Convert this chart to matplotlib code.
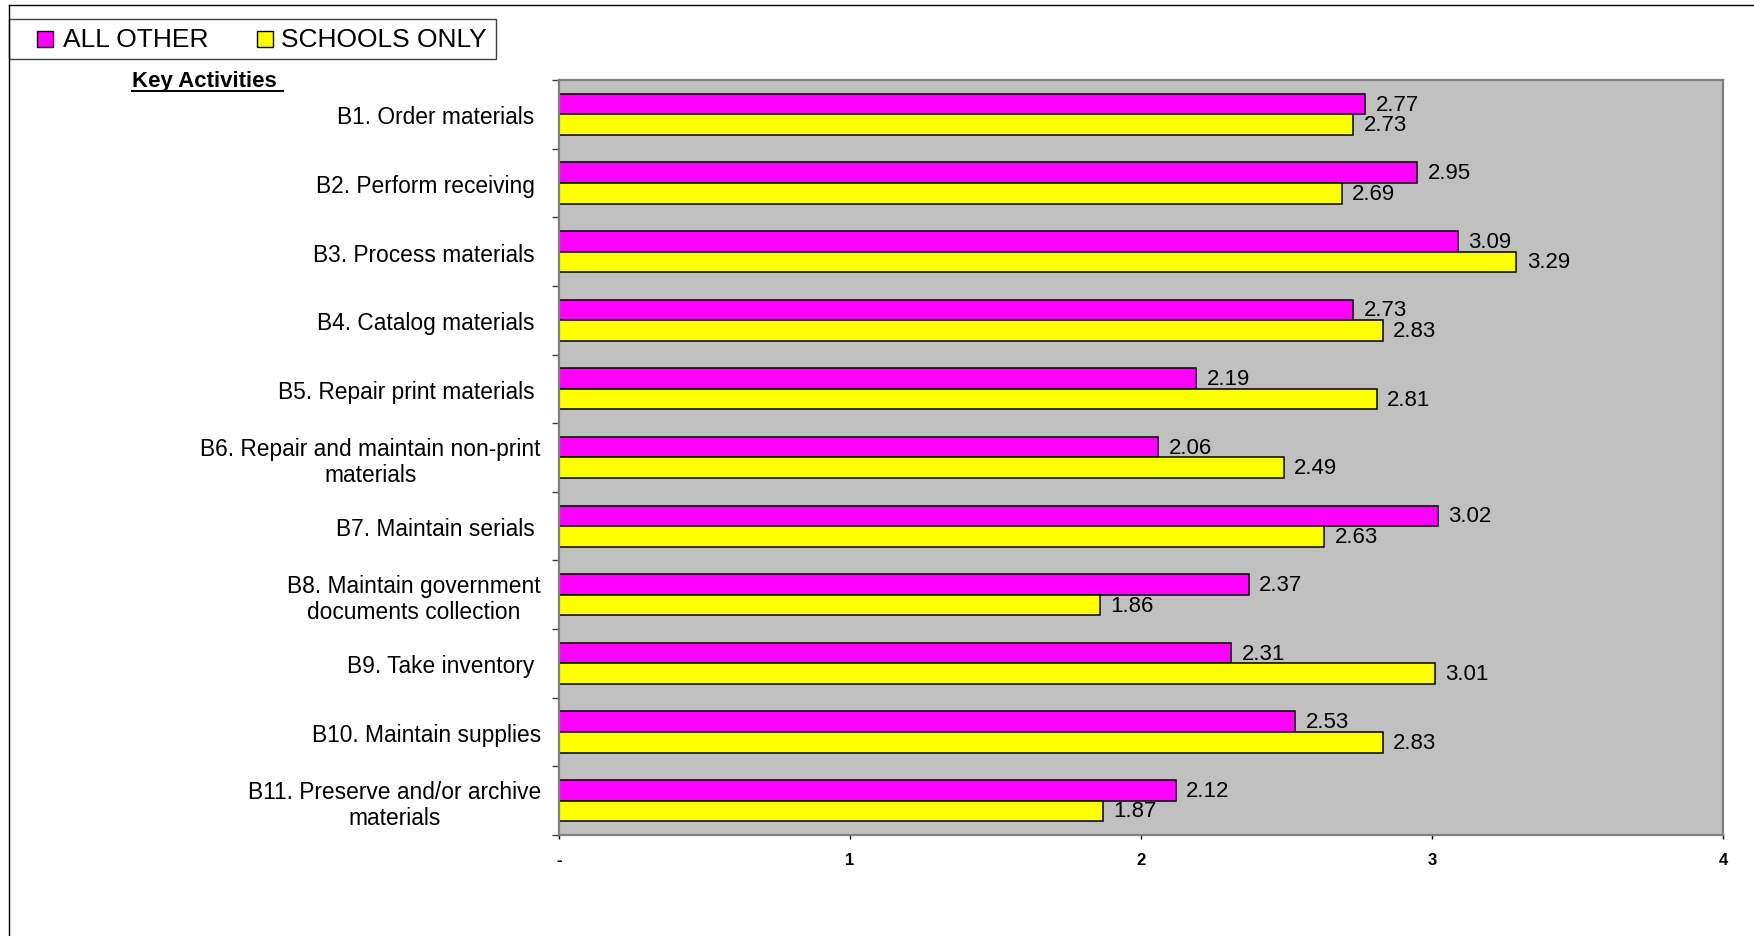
import matplotlib.pyplot as plt
from matplotlib.patches import Rectangle
from matplotlib.lines import Line2D

plt.rcParams['font.family'] = ['Liberation Sans', 'DejaVu Sans']

# du lieu
activities = ['B1. Order materials ', 'B2. Perform receiving ', 'B3. Process materials ',
              'B4. Catalog materials ', 'B5. Repair print materials ',
              'B6. Repair and maintain non-print\nmaterials', 'B7. Maintain serials ',
              'B8. Maintain government\ndocuments collection', 'B9. Take inventory ',
              'B10. Maintain supplies', 'B11. Preserve and/or archive\nmaterials']
all_other = [2.77, 2.95, 3.09, 2.73, 2.19, 2.06, 3.02, 2.37, 2.31, 2.53, 2.12]
schools_only = [2.73, 2.69, 3.29, 2.83, 2.81, 2.49, 2.63, 1.86, 3.01, 2.83, 1.87]
x_ticks = [0, 1, 2, 3, 4]
x_labels = ['-', '1', '2', '3', '4']
series = [('ALL OTHER', all_other, '#FF00FF'), ('SCHOOLS ONLY', schools_only, '#FFFF00')]

W, H = 1754, 937
fig = plt.figure(figsize=(W / 100, H / 100), dpi=100)
fig.subplots_adjust(left=559 / W, right=1723 / W, top=1 - 81 / H, bottom=1 - 836 / H)
ax = fig.add_subplot(111)


def fx(px):
    return px / W


def fy(py):
    return 1 - py / H


pos = list(range(len(activities)))
bh = 0.3
for k, (name, vals, col) in enumerate(series):
    off = -bh / 2 if k == 0 else bh / 2
    ys = [p + off for p in pos]
    ax.barh(ys, vals, height=bh, color=col, edgecolor='black', linewidth=1.1, label=name)
    for v, yy in zip(vals, ys):
        ax.annotate(f'{v:.2f}', (v, yy), xytext=(7.5, 0), textcoords='offset points',
                    va='center', ha='left', fontsize=16)

ax.set_facecolor('#C0C0C0')
ax.set_xlim(0, 4)
ax.set_ylim(len(activities) - 0.5, -0.5)
for s in ax.spines.values():
    s.set_color('#808080')
    s.set_linewidth(1.6)

ax.set_xticks(x_ticks, x_labels, fontsize=12, fontweight='bold')
ax.tick_params(axis='x', length=3, width=1, color='black', pad=9)

ax.set_yticks(pos)
ax.set_yticklabels(activities, fontsize=16.4, ha='right', ma='center', linespacing=1.15)
ax.set_yticks([p - 0.5 for p in pos] + [len(pos) - 0.5], minor=True)
ax.tick_params(axis='y', which='major', length=0, pad=13)
ax.tick_params(axis='y', which='minor', length=5, width=1, color='#404040')

# khung ngoai
fig.add_artist(Line2D([fx(9), fx(9)], [0, fy(6)], color='black', lw=1))
fig.add_artist(Line2D([fx(9), 1], [fy(6), fy(6)], color='black', lw=1))

# chu thich
fig.add_artist(Rectangle((fx(9), fy(60)), fx(496) - fx(9), fy(20) - fy(60),
                         transform=fig.transFigure, facecolor='white', edgecolor='#404040', lw=1))
for (name, vals, col), hx, tx in zip(series, [37, 257], [63, 281]):
    fig.add_artist(Rectangle((fx(hx), fy(48)), fx(16), 16 / H, transform=fig.transFigure,
                             facecolor=col, edgecolor='black', lw=1))
    fig.text(fx(tx), fy(40), name, fontsize=19, va='center', ha='left')

t = fig.text(fx(132), fy(81), 'Key Activities ', fontsize=16, fontweight='bold',
             va='center', ha='left')
fig.canvas.draw()
bb = t.get_window_extent(fig.canvas.get_renderer())
fig.add_artist(Line2D([bb.x0 / W, bb.x1 / W], [fy(92), fy(92)], color='black', lw=1.4))

plt.savefig('out.png', dpi=100, facecolor='white')
